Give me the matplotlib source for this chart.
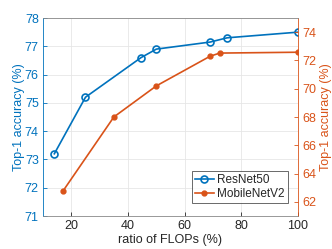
import matplotlib
matplotlib.use("Agg")
import matplotlib.pyplot as plt

plt.rcParams['font.family'] = ['Liberation Sans', 'DejaVu Sans']

# ResNet50 (left axis)
res_x = [14, 25, 44.6, 50, 69, 75, 100]
res_acc = [73.2, 75.2, 76.6, 76.9, 77.15, 77.3, 77.5]
# MobileNetV2 (right axis)
mob_x = [17, 35, 50, 69, 72.4, 100]
mob_acc = [62.75, 68.0, 70.2, 72.3, 72.52, 72.58]

x_ticks = [20, 40, 60, 80, 100]
left_ticks = [71, 72, 73, 74, 75, 76, 77, 78]
right_ticks = [62, 64, 66, 68, 70, 72, 74]

blue = '#0072BD'
orange = '#D95319'
fs = 9

fig = plt.figure(figsize=(3.32, 2.49), dpi=100)
ax = fig.add_axes([0.1295, 0.1325, 0.7681, 0.7952])
ax2 = ax.twinx()

l1, = ax.plot(res_x, res_acc, '-o', color=blue, lw=1.2, ms=5, mfc='none', mew=1.2, label='ResNet50')
l2, = ax2.plot(mob_x, mob_acc, '-o', color=orange, lw=1.2, ms=3.5, mew=1, label='MobileNetV2')

ax.set_xlim(10, 100)
ax.set_ylim(71, 78)
ax2.set_ylim(61, 75)
ax.set_xticks(x_ticks)
ax.set_yticks(left_ticks)
ax2.set_yticks(right_ticks)

ax.grid(True, color='#e6e6e6', lw=0.6)
ax.set_axisbelow(True)

ax.set_xlabel('ratio of FLOPs (%)', fontsize=fs, color='#262626', labelpad=1)
ax.set_ylabel('Top-1 accuracy (%)', fontsize=fs, color=blue, labelpad=0)
ax2.set_ylabel('Top-1 accuracy (%)', fontsize=fs, color=orange, labelpad=3)

ax.tick_params(axis='x', direction='in', labelsize=fs, colors='#262626', length=3, width=0.6, pad=3)
ax.tick_params(axis='y', direction='in', labelsize=fs, colors=blue, length=3, width=0.6, pad=3)
ax2.tick_params(axis='y', direction='in', labelsize=fs, colors=orange, length=3, width=0.6, pad=3)

for s in ['top', 'bottom']:
    ax2.spines[s].set_color('#888888')
    ax2.spines[s].set_linewidth(0.6)
ax2.spines['left'].set_color(blue)
ax2.spines['right'].set_color(orange)
ax2.spines['left'].set_linewidth(0.6)
ax2.spines['right'].set_linewidth(0.6)
for s in ax.spines.values():
    s.set_visible(False)

leg = ax2.legend(handles=[l1, l2], loc='lower right', fontsize=8.5, frameon=True,
                 fancybox=False, edgecolor='#262626', handlelength=1.6,
                 handletextpad=0.3, borderpad=0.25, labelspacing=0.15,
                 borderaxespad=0, bbox_to_anchor=(0.96, 0.066))
leg.get_frame().set_linewidth(0.6)
for t in leg.get_texts():
    t.set_color('#262626')

fig.savefig('out.png', dpi=100)
